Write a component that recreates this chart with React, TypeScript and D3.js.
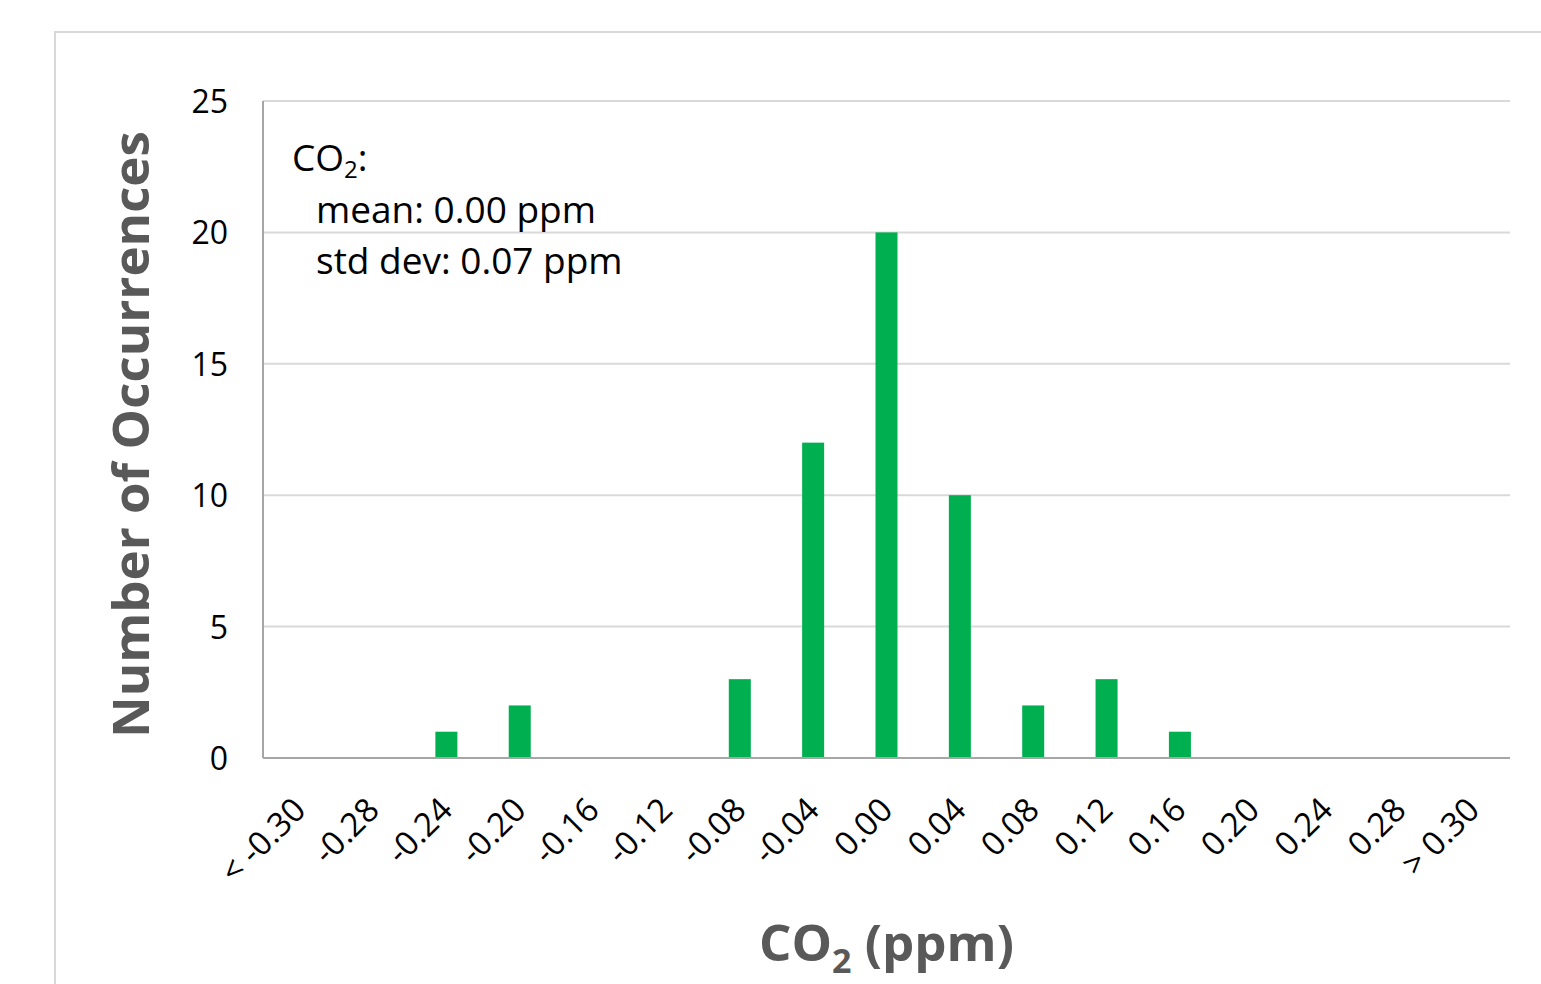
import React, { useRef, useEffect } from "react";
import * as d3 from "d3";

// histogram bins and counts
const binLabels = [
  "< -0.30", "-0.28", "-0.24", "-0.20", "-0.16", "-0.12", "-0.08", "-0.04",
  "0.00", "0.04", "0.08", "0.12", "0.16", "0.20", "0.24", "0.28", "> 0.30",
];
const counts = [0, 0, 1, 2, 0, 0, 3, 12, 20, 10, 2, 3, 1, 0, 0, 0, 0];
const yTicks = [0, 5, 10, 15, 20, 25];
const statLines = ["mean: 0.00 ppm", "std dev: 0.07 ppm"];

const W = 1541;
const H = 984;
const FONT = "'Open Sans', 'Noto Sans', sans-serif";

export default function App() {
  const ref = useRef<SVGSVGElement>(null);

  useEffect(() => {
    if (!ref.current) return;
    const svg = d3.select(ref.current);
    svg.selectAll("*").remove();

    const margin = { top: 101, right: 31, bottom: 226, left: 263 };

    // outer chart frame (runs off the right and bottom edges)
    svg.append("rect")
      .attr("x", 55).attr("y", 32)
      .attr("width", W).attr("height", H)
      .attr("fill", "#fff")
      .attr("stroke", "#d9d9d9")
      .attr("stroke-width", 2);

    const x = d3.scaleBand<string>()
      .domain(binLabels)
      .range([margin.left, W - margin.right])
      .paddingInner(0.7)
      .paddingOuter(0.35);

    const y = d3.scaleLinear()
      .domain([0, 25])
      .range([H - margin.bottom, margin.top]);

    // gridlines
    svg.append("g")
      .selectAll("line")
      .data(yTicks.filter(t => t > 0))
      .join("line")
      .attr("x1", margin.left)
      .attr("x2", W - margin.right)
      .attr("y1", d => y(d))
      .attr("y2", d => y(d))
      .attr("stroke", "#d9d9d9")
      .attr("stroke-width", 2);

    // bars
    svg.append("g")
      .selectAll("rect")
      .data(counts)
      .join("rect")
      .attr("x", (_, i) => x(binLabels[i])!)
      .attr("width", x.bandwidth())
      .attr("y", d => y(d))
      .attr("height", d => y(0) - y(d))
      .attr("fill", "#00b050");

    // axis lines
    svg.append("line")
      .attr("x1", margin.left).attr("x2", margin.left)
      .attr("y1", y(25)).attr("y2", y(0))
      .attr("stroke", "#a6a6a6").attr("stroke-width", 2);
    svg.append("line")
      .attr("x1", margin.left).attr("x2", W - margin.right)
      .attr("y1", y(0)).attr("y2", y(0))
      .attr("stroke", "#a6a6a6").attr("stroke-width", 2);

    // y tick labels
    svg.append("g")
      .selectAll("text")
      .data(yTicks)
      .join("text")
      .attr("x", 228)
      .attr("y", d => y(d) + 12)
      .attr("text-anchor", "end")
      .attr("font-family", FONT)
      .attr("font-size", 32)
      .attr("fill", "#000")
      .text(d => d);

    // x tick labels, rotated
    svg.append("g")
      .selectAll("text")
      .data(binLabels)
      .join("text")
      .attr("transform", d => `translate(${x(d)! + x.bandwidth() / 2 + 8},${y(0) + 54}) rotate(-45)`)
      .attr("text-anchor", "end")
      .attr("font-family", FONT)
      .attr("font-size", 33)
      .attr("fill", "#000")
      .text(d => d);

    // stats annotation, one text per line
    const head = svg.append("text")
      .attr("x", 292).attr("y", 171)
      .attr("font-family", FONT)
      .attr("font-size", 37)
      .attr("fill", "#000");
    head.append("tspan").text("CO");
    head.append("tspan").attr("font-size", 24).attr("dy", 7).text("2");
    head.append("tspan").attr("dy", -7).text(":");

    svg.append("g")
      .selectAll("text")
      .data(statLines)
      .join("text")
      .attr("x", 316)
      .attr("y", (_, i) => 223 + i * 51)
      .attr("font-family", FONT)
      .attr("font-size", 37)
      .attr("fill", "#000")
      .text(d => d);

    // y axis title
    svg.append("text")
      .attr("transform", `translate(149,${(y(0) + y(25)) / 2 + 5}) rotate(-90)`)
      .attr("text-anchor", "middle")
      .attr("font-family", FONT)
      .attr("font-weight", "bold")
      .attr("font-size", 51)
      .attr("fill", "#595959")
      .text("Number of Occurrences");

    // x axis title
    const xt = svg.append("text")
      .attr("x", (margin.left + W - margin.right) / 2)
      .attr("y", 961)
      .attr("text-anchor", "middle")
      .attr("font-family", FONT)
      .attr("font-weight", "bold")
      .attr("font-size", 51)
      .attr("fill", "#595959");
    xt.append("tspan").text("CO");
    xt.append("tspan").attr("font-size", 34).attr("dy", 12).text("2");
    xt.append("tspan").attr("dy", -12).text(" (ppm)");
  }, []);

  return (
    <svg
      ref={ref}
      width={W}
      height={H}
      style={{ position: "absolute", left: 0, top: 0, background: "#fff" }}
    />
  );
}
